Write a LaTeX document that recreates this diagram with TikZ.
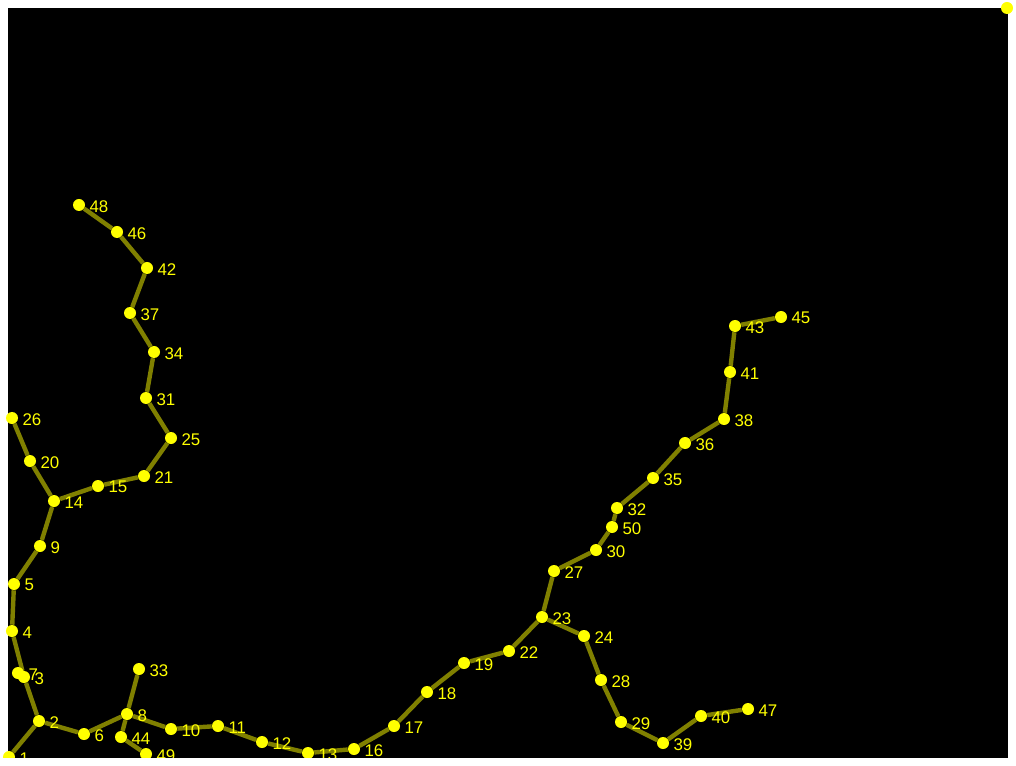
\documentclass[tikz,border=0pt]{standalone}
\usepackage{fontspec}
\setsansfont{Liberation Sans}
\usetikzlibrary{positioning}
\pgfdeclarelayer{back}
\pgfdeclarelayer{edges}
\pgfdeclarelayer{front}
\pgfsetlayers{back,edges,main,front}
\definecolor{dotyellow}{RGB}{255,255,0}
\definecolor{linkolive}{RGB}{128,128,0}

\begin{document}
\begin{tikzpicture}[
    x=0.025cm, y=-0.025cm,
    dot/.style={
        circle, fill=dotyellow, inner sep=0pt, minimum size=0.3cm,
        label={[lbl]right:#1}
    },
    dot/.default={},
    lbl/.style={
        text=dotyellow, inner sep=0pt, label distance=0.1cm,
        yshift=-0.03cm, font=\sffamily\fontsize{12}{13}\selectfont
    },
    link/.style={linkolive, line width=0.11cm}
]
\useasboundingbox (0,0) rectangle (1016,766);
\begin{pgfonlayer}{back}
\fill[white] (0,0) rectangle (1016,766);
\fill[black] (8,8) rectangle (1008,758);
\end{pgfonlayer}

% left branch
\node[dot=1]  (n1)  at (9,757)   {};
\node[dot=2]  (n2)  at (39,721)  {};
\node[dot=3]  (n3)  at (24,677)  {};
\node[dot=7]  (n7)  at (18,673)  {};
\node[dot=4]  (n4)  at (12,631)  {};
\node[dot=5]  (n5)  at (14,584)  {};
\node[dot=9]  (n9)  at (40,546)  {};
\node[dot=14] (n14) at (54,501)  {};
\node[dot=20] (n20) at (30,461)  {};
\node[dot=26] (n26) at (12,418)  {};
\node[dot=15] (n15) at (98,486)  {};
\node[dot=21] (n21) at (144,476) {};
\node[dot=25] (n25) at (171,438) {};
\node[dot=31] (n31) at (146,398) {};
\node[dot=34] (n34) at (154,352) {};
\node[dot=37] (n37) at (130,313) {};
\node[dot=42] (n42) at (147,268) {};
\node[dot=46] (n46) at (117,232) {};
\node[dot=48] (n48) at (79,205)  {};

% bottom branch
\node[dot=6]  (n6)  at (84,734)  {};
\node[dot=8]  (n8)  at (127,714) {};
\node[dot=33] (n33) at (139,669) {};
\node[dot=44] (n44) at (121,737) {};
\node[dot=49] (n49) at (146,754) {};
\node[dot=10] (n10) at (171,729) {};
\node[dot=11] (n11) at (218,726) {};
\node[dot=12] (n12) at (262,742) {};
\node[dot=13] (n13) at (308,753) {};
\node[dot=16] (n16) at (354,749) {};
\node[dot=17] (n17) at (394,726) {};
\node[dot=18] (n18) at (427,692) {};
\node[dot=19] (n19) at (464,663) {};
\node[dot=22] (n22) at (509,651) {};
\node[dot=23] (n23) at (542,617) {};

% right branches
\node[dot=27] (n27) at (554,571) {};
\node[dot=30] (n30) at (596,550) {};
\node[dot=50] (n50) at (612,527) {};
\node[dot=32] (n32) at (617,508) {};
\node[dot=35] (n35) at (653,478) {};
\node[dot=36] (n36) at (685,443) {};
\node[dot=38] (n38) at (724,419) {};
\node[dot=41] (n41) at (730,372) {};
\node[dot=43] (n43) at (735,326) {};
\node[dot=45] (n45) at (781,317) {};
\node[dot=24] (n24) at (584,636) {};
\node[dot=28] (n28) at (601,680) {};
\node[dot=29] (n29) at (621,722) {};
\node[dot=39] (n39) at (663,743) {};
\node[dot=40] (n40) at (701,716) {};
\node[dot=47] (n47) at (748,709) {};

\node[dot]    (n0)  at (1007,8)  {};

\begin{pgfonlayer}{edges}
\draw[link] (n1) -- (n2) -- (n3) -- (n4) -- (n5) -- (n9) -- (n14) -- (n20) -- (n26);
\draw[link] (n3) -- (n7);
\draw[link] (n14) -- (n15) -- (n21) -- (n25) -- (n31) -- (n34) -- (n37)
    -- (n42) -- (n46) -- (n48);
\draw[link] (n2) -- (n6) -- (n8) -- (n10) -- (n11) -- (n12) -- (n13) -- (n16)
    -- (n17) -- (n18) -- (n19) -- (n22) -- (n23);
\draw[link] (n8) -- (n33);
\draw[link] (n8) -- (n44) -- (n49);
\draw[link] (n23) -- (n27) -- (n30) -- (n50) -- (n32) -- (n35) -- (n36) -- (n38)
    -- (n41) -- (n43) -- (n45);
\draw[link] (n23) -- (n24) -- (n28) -- (n29) -- (n39) -- (n40) -- (n47);
\end{pgfonlayer}

\begin{pgfonlayer}{front}
\fill[white] (0,758) rectangle (1016,766);
\end{pgfonlayer}
\end{tikzpicture}
\end{document}
